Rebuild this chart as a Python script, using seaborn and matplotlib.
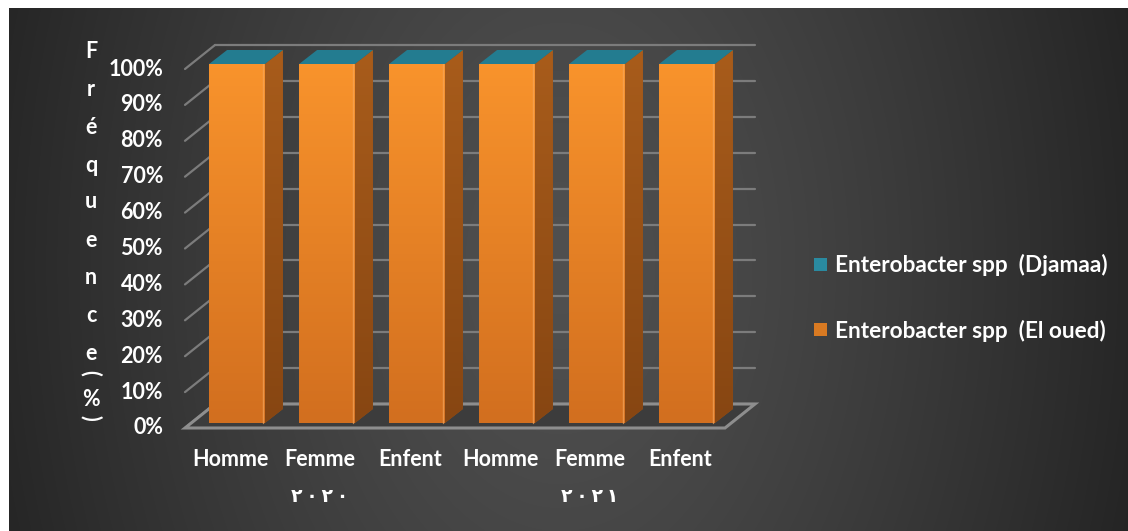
import numpy as np
import pandas as pd
import matplotlib
matplotlib.use("Agg")
import matplotlib.pyplot as plt
import seaborn as sns
from matplotlib.patches import Polygon, Patch
from matplotlib.colors import LinearSegmentedColormap

# data
years = ["٢٠٢٠", "٢٠٢١"]
sexes = ["Homme", "Femme", "Enfent"]
el_oued = [100, 100, 100, 100, 100, 100]
djamaa = [0, 0, 0, 0, 0, 0]
series_names = ["Enterobacter spp  (Djamaa)", "Enterobacter spp  (El oued)"]
y_ticks = [0, 10, 20, 30, 40, 50, 60, 70, 80, 90, 100]
y_label = "Fréquence(%)"

df = pd.DataFrame({
    "key": [y + " " + s for y in years for s in sexes],
    "sexe": sexes * 2,
    "year": np.repeat(years, len(sexes)),
    "el_oued": el_oued,
    "djamaa": djamaa,
})
df["total"] = df["el_oued"] + df["djamaa"]

sns.set_theme(style="white")
plt.rcParams["font.family"] = ["Lato", "DejaVu Sans"]
plt.rcParams["font.weight"] = "bold"

W, H = 1128, 531
fig = plt.figure(figsize=(W / 100, H / 100), dpi=100, facecolor="white")

def fx(px):
    return px / W

def fy(py):
    return 1 - py / H

# dark radial background
bg = fig.add_axes([fx(9), 0, 1 - fx(9), fy(8)])
gx, gy = np.meshgrid(np.arange(9, W), np.arange(8, H))
r = np.sqrt(((gx - 560) / 600.0) ** 2 + ((gy - 265) / 900.0) ** 2)
r = np.clip(r, 0, 1) ** 1.3
light, dark = 80 / 255, 36 / 255
shade = light - (light - dark) * r
bg.imshow(np.dstack([shade] * 3), aspect="auto", extent=(0, 1, 0, 1), interpolation="bilinear")
bg.set_axis_off()

# main axes: 90 px per category, 3.59 px per percent
ax = fig.add_axes([fx(150), fy(440), fx(780) - fx(150), fy(30) - fy(440)])
ax.patch.set_alpha(0)
PPX, PPV = 90.0, 3.59
xlim = ((150 - 237) / PPX, (780 - 237) / PPX)
ylim = ((423 - 440) / PPV, (423 - 30) / PPV)

teal = "#237C90"
orange = "#F08A28"
side_col = "#9C5419"
grid_col = "#7c7c7c"
fs = 15.5

sns.barplot(data=df, x="key", y="total", order=df["key"], color=teal, width=0.62,
            saturation=1, errorbar=None, ax=ax, zorder=4, linewidth=0, edgecolor="none")
sns.barplot(data=df, x="key", y="el_oued", order=df["key"], color=orange, width=0.62,
            saturation=1, errorbar=None, ax=ax, zorder=4, linewidth=0, edgecolor="none")

# 3d frame: front plane (labels) and back wall
fx0, fx1 = (185 - 237) / PPX, (725 - 237) / PPX
bdx, bdv = 30 / PPX, 24 / PPV
fv = (423 - 428) / PPV
for k in y_ticks:
    ax.plot([fx0 + bdx, fx1 + bdx], [k + fv + bdv] * 2, color=grid_col, lw=1.6, zorder=1)
    ax.plot([fx0, fx0 + bdx], [k + fv, k + fv + bdv], color=grid_col, lw=1.6, zorder=1)
    ax.text((163 - 237) / PPX, k + fv, f"{k}%", ha="right", va="center",
            color="white", fontsize=fs, fontweight="bold")
floor = Polygon([(fx0, fv), (fx1, fv), (fx1 + bdx, fv + bdv), (fx0 + bdx, fv + bdv)],
                closed=True, facecolor="#3c3c3c", edgecolor="#8e8e8e", lw=2.2, zorder=2)
ax.add_patch(floor)

# bar depth faces and gradients
ddx, ddv = 18 / PPX, 14 / PPV
n = len(df)
front_cmap = LinearSegmentedColormap.from_list("front", ["#D26F1F", "#F8932C"])
side_cmap = LinearSegmentedColormap.from_list("side", ["#874612", "#A85C1B"])
grad = np.linspace(0, 1, 100).reshape(-1, 1)
for i in range(n):
    tp = ax.patches[i]
    op = ax.patches[n + i]
    x0, w = op.get_x(), op.get_width()
    x1 = x0 + w
    h = op.get_height()
    ht = tp.get_height()
    im = ax.imshow(grad, extent=(x0, x1, 0, h), origin="lower", cmap=front_cmap,
                   aspect="auto", zorder=4.5)
    im.set_clip_path(op)
    ax.plot([x1 - 1.5 / PPX] * 2, [0, h], color="#F6A55A", lw=1.0, alpha=0.7, zorder=4.6)
    side = Polygon([(x1, 0), (x1, ht), (x1 + ddx, ht + ddv), (x1 + ddx, ddv)],
                   closed=True, facecolor=side_col, edgecolor="none", zorder=3.5)
    ax.add_patch(side)
    im2 = ax.imshow(grad, extent=(x1, x1 + ddx, 0, ht + ddv), origin="lower", cmap=side_cmap,
                    aspect="auto", zorder=3.6)
    im2.set_clip_path(side)
    top = Polygon([(x0, ht), (x1, ht), (x1 + ddx, ht + ddv), (x0 + ddx, ht + ddv)],
                  closed=True, facecolor=teal, edgecolor="none", zorder=5)
    ax.add_patch(top)

# category labels on the front plane
for i, s in enumerate(df["sexe"]):
    ax.text(i - 7 / PPX, (423 - 459) / PPV, s, ha="center", va="center",
            color="white", fontsize=fs, fontweight="bold")
for j, y in enumerate(years):
    ax.text(j * 3 + 1 - 7 / PPX, (423 - 497) / PPV, "\u2009".join(y), ha="center", va="center",
            color="white", fontsize=13.5, fontweight="bold", family="DejaVu Sans")

ax.set_xlim(*xlim)
ax.set_ylim(*ylim)
ax.set_axis_off()

# vertical letter-by-letter axis title
letter_y = [52, 90, 127, 165, 202, 240, 277, 315, 353, 373, 400, 418]
for ch, py in zip(y_label, letter_y):
    rot = -90 if ch in "()" else 0
    fig.text(fx(91), fy(py), ch, ha="center", va="center", rotation=rot,
             color="white", fontsize=fs, fontweight="bold")

handles = [Patch(facecolor="#2A8AA0", edgecolor="none"), Patch(facecolor="#D97A22", edgecolor="none")]
fig.legend(handles, series_names, loc="center left", bbox_to_anchor=(fx(794), fy(298)),
           frameon=False, labelcolor="white", handlelength=0.55, handleheight=0.55,
           handletextpad=0.35, labelspacing=1.9, prop={"weight": "bold", "size": 16.3})

fig.savefig("out.png", dpi=100, facecolor="white")
